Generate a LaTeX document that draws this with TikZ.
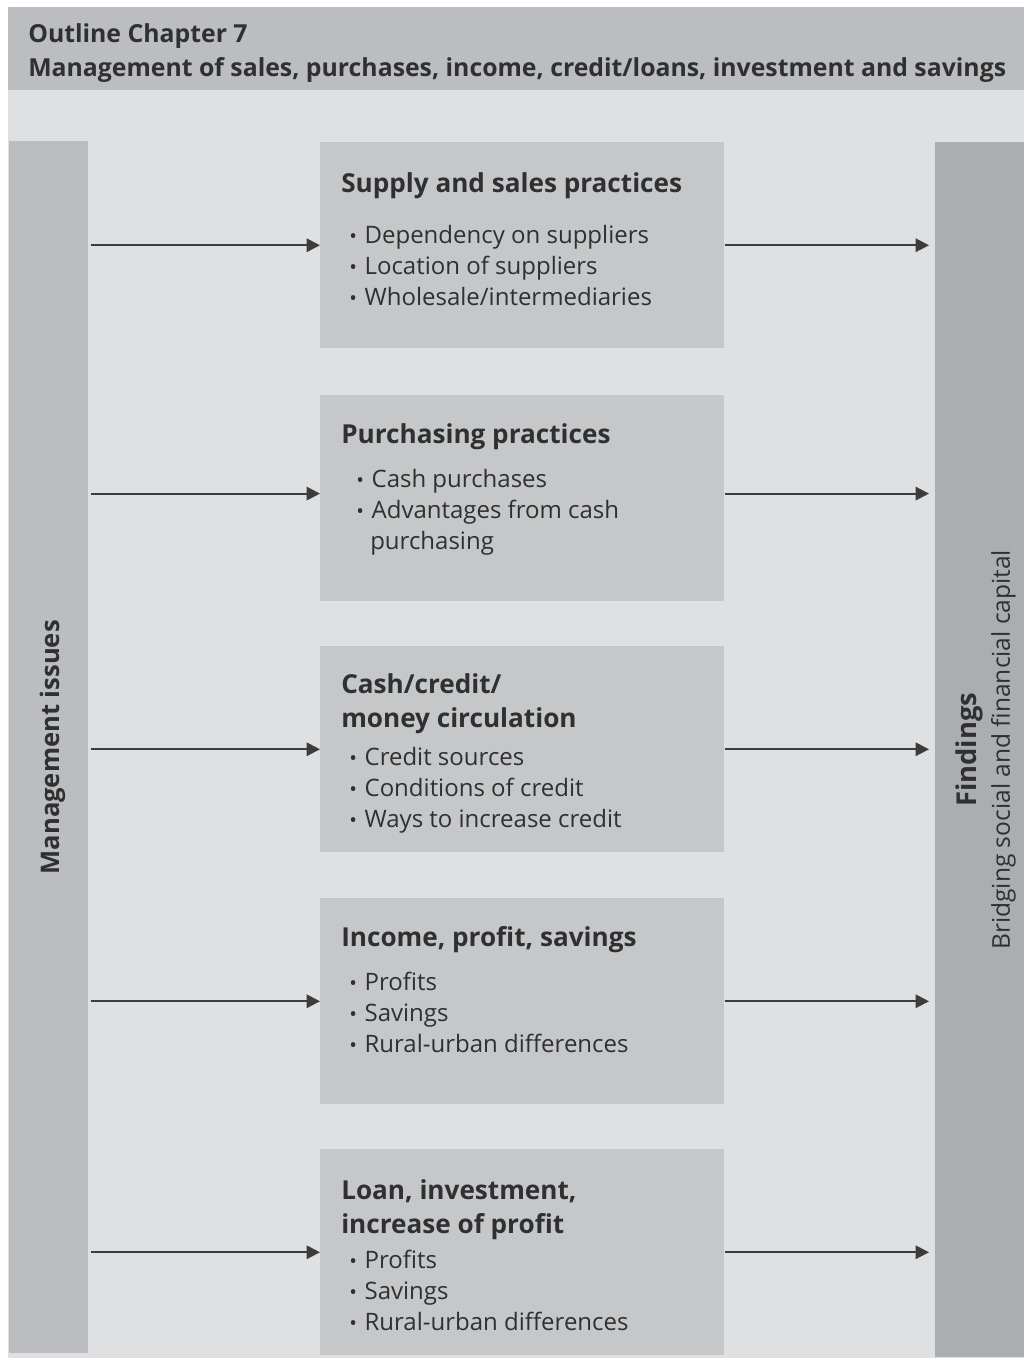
\documentclass[tikz,border=0pt]{standalone}
\usepackage{fontspec}
\setmainfont{Open Sans}
\usetikzlibrary{arrows.meta, positioning}
\definecolor{hdrgray}{HTML}{BCBDC0}
\definecolor{bggray}{HTML}{DFE0E2}
\definecolor{boxgray}{HTML}{C6C7C9}
\definecolor{findgray}{HTML}{ABAEB1}
\definecolor{txtgray}{HTML}{303030}
\definecolor{arrgray}{HTML}{3C3C3C}
\newcommand{\itm}{\makebox[11.5pt][l]{\scalebox{0.85}{\textbullet}}}
\tikzset{
  bar/.style={rectangle, inner sep=0pt, anchor=north west},
  topic/.style={rectangle, fill=boxgray, inner sep=0pt, minimum width=303pt, minimum height=154.5pt, anchor=north west},
  head/.style={anchor=base west, align=left, inner sep=0pt, text=txtgray, font=\fontsize{19.6}{25.5}\selectfont\bfseries},
  items/.style={anchor=base west, align=left, inner sep=0pt, text=txtgray, font=\fontsize{18}{23.25}\selectfont},
  arrow/.style={line width=1.5pt, draw=arrgray, -{Triangle[length=10pt,width=10pt]}}
}
\begin{document}
\begin{tikzpicture}[x=0.75pt, y=-0.75pt]
		\useasboundingbox [fill=white] (0,0) rectangle (1024,1358);
		
		% Background
		\fill [hdrgray] (8,7) rectangle (1024,90);
		\fill [bggray] (8,90) rectangle (1024,1358);
		\node (title) [head, font=\fontsize{18.6}{25.5}\selectfont\bfseries] at (28,77) {Outline Chapter 7\\Management of sales, purchases, income, credit/loans, investment and savings};
		
		% Side bars
		\node (mgmt) [bar, fill=hdrgray, minimum width=59.25pt, minimum height=909pt] at (9,141) {};
		\node (fnd) [bar, fill=findgray, minimum width=66.75pt, minimum height=911.25pt] at (935,142) {};
		\node (mgmttxt) [rotate=90, text=txtgray, font=\fontsize{19.2}{24}\selectfont\bfseries] at ([xshift=3pt]mgmt.center) {Management issues};
		\node (fndtxt) [rotate=90, align=center, text=txtgray, font=\fontsize{18.4}{25}\selectfont] at ([xshift=4.5pt]fnd.center) {{\fontsize{20.5}{25}\selectfont\bfseries Findings}\\Bridging social and financial capital};
		
		% Topic boxes
		\node (b1) [topic] at (320,142) {};
		\node (b2) [topic] at (320,395) {};
		\node (b3) [topic] at (320,646) {};
		\node (b4) [topic] at (320,898) {};
		\node (b5) [topic] at (320,1149) {};
		
		% Box texts (base = last line)
		\node (h1) [head] at ([shift={(21,51)}]b1.north west) {Supply and sales practices};
		\node (l1) [items] at ([shift={(29,164)}]b1.north west) {\itm Dependency on suppliers\\\itm Location of suppliers\\\itm Wholesale/intermediaries};
		\node (h2) [head] at ([shift={(21,48)}]b2.north west) {Purchasing practices};
		\node (l2) [items] at ([shift={(36,154)}]b2.north west) {\itm Cash purchases\\\itm Advantages from cash\\\hspace*{10.5pt}purchasing};
		\node (h3) [head] at ([shift={(21,81)}]b3.north west) {Cash/credit/\\money circulation};
		\node (l3) [items] at ([shift={(29,181)}]b3.north west) {\itm Credit sources\\\itm Conditions of credit\\\itm Ways to increase credit};
		\node (h4) [head] at ([shift={(21,48)}]b4.north west) {Income, profit, savings};
		\node (l4) [items] at ([shift={(29,154)}]b4.north west) {\itm Profits\\\itm Savings\\\itm Rural-urban differences};
		\node (h5) [head] at ([shift={(21,84)}]b5.north west) {Loan, investment,\\increase of profit};
		\node (l5) [items] at ([shift={(29,181)}]b5.north west) {\itm Profits\\\itm Savings\\\itm Rural-urban differences};
		
		% Arrows in
		\draw [arrow, shorten <=1.5pt] (mgmt.east |- b1.west) -- (b1.west);
		\draw [arrow, shorten <=1.5pt] ([yshift=3.5pt]mgmt.east |- b2.west) -- ([yshift=3.5pt]b2.west);
		\draw [arrow, shorten <=1.5pt] (mgmt.east |- b3.west) -- (b3.west);
		\draw [arrow, shorten <=1.5pt] (mgmt.east |- b4.west) -- (b4.west);
		\draw [arrow, shorten <=1.5pt] (mgmt.east |- b5.west) -- (b5.west);
		
		% Arrows out
		\draw [arrow, shorten >=4.5pt] (b1.east) -- (fnd.west |- b1.east);
		\draw [arrow, shorten >=4.5pt] ([yshift=3.5pt]b2.east) -- ([yshift=3.5pt]fnd.west |- b2.east);
		\draw [arrow, shorten >=4.5pt] (b3.east) -- (fnd.west |- b3.east);
		\draw [arrow, shorten >=4.5pt] (b4.east) -- (fnd.west |- b4.east);
		\draw [arrow, shorten >=4.5pt] (b5.east) -- (fnd.west |- b5.east);
		
	\end{tikzpicture}
\end{document}
